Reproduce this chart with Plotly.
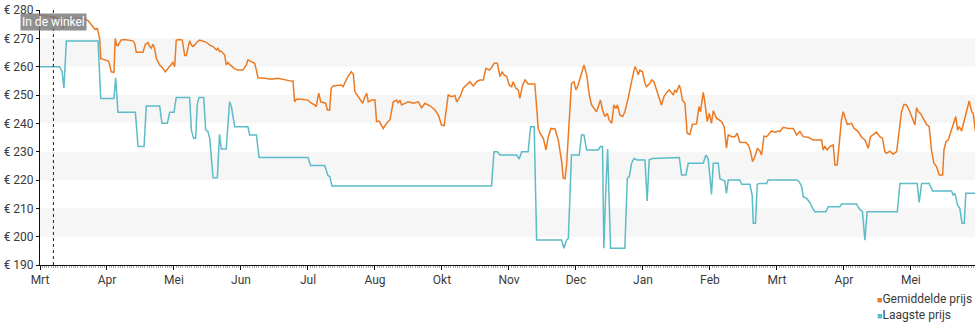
import plotly.graph_objects as go

# Price history: day index (one month = 30 days on this axis) and price in euro
avg_day = [0, 4.5, 8, 10.4, 12, 20, 21.6, 24.6, 25.7, 26.7, 27.2, 29, 30.7, 31.2, 31.9, 33.1, 33.7, 34.3,
           34.9, 35.7, 36.4, 37.9, 39.4, 41.6, 42.4, 43.1, 46.1, 47.2, 48.4, 49.1, 49.8, 50.6, 51.3, 52.1,
           53.6, 55.1, 56.1, 57.3, 58.8, 59.5, 60.3, 61, 62.5, 63.7, 64.3, 64.8, 65.5, 66.3, 67, 67.8, 68.5,
           69.2, 70.4, 71.5, 73, 74.5, 76, 77.5, 79, 79.7, 80.4, 81.2, 82, 82.7, 83.4, 84.2, 84.9, 85.7, 87.2,
           88.7, 90.9, 92.4, 93.1, 94.6, 96.1, 96.9, 97.6, 100.6, 103.6, 106.6, 109.5, 112.5, 113.3, 114,
           114.8, 117, 120, 121.5, 123, 123.7, 124.5, 124.9, 125.7, 127.2, 127.9, 128.7, 129.7, 130.4, 131.2,
           134.9, 135.7, 136.4, 137.9, 139.4, 140.3, 141, 141.8, 143.3, 144.5, 145.5, 146.3, 147, 148.5, 150,
           150.7, 151.9, 153, 153.7, 155.2, 156.7, 158.2, 159.7, 160.4, 161.2, 161.9, 163.4, 164.9, 167.2,
           169.4, 170.9, 172.4, 174.6, 176.9, 178.4, 179.8, 181, 182.8, 184.3, 185.8, 186.6, 188.1, 189.5,
           191, 192.5, 194, 195.5, 197, 198.5, 199.7, 201.2, 202.2, 203.3, 204.8, 206, 206.9, 207.8, 209,
           210.1, 211.2, 211.9, 213.1, 214.2, 214.9, 216.1, 217.2, 218.6, 221.6, 222.4, 223.1, 223.9, 225.4,
           226.6, 227.6, 228.8, 230.6, 232.1, 233.6, 234.3, 235.1, 235.8, 236.6, 237.3, 238, 239.1, 240, 241,
           242.5, 243.6, 244.8, 246, 247, 248.2, 249.2, 250, 251, 251.9, 253, 254, 254.9, 256, 257, 257.9,
           258.6, 259.7, 260.9, 261.9, 263.4, 264.9, 266.4, 267.2, 267.9, 268.6, 269.8, 270.9, 271.6, 273.1,
           273.9, 274.9, 276.1, 277.3, 278.3, 279.4, 280.6, 281.8, 282.8, 283.6, 284.3, 285, 286.3, 286.9,
           287.7, 288.8, 289.8, 291, 292.1, 294, 295.1, 295.8, 297, 297.7, 298.8, 299.7, 300.7, 301.5, 303,
           304.2, 305.2, 306.4, 307.4, 308.2, 309.7, 311.2, 312.2, 313.4, 316.1, 317.2, 318.2, 319.1, 320.1,
           321.3, 322.4, 323.1, 324.2, 325.4, 326.6, 327.6, 329.1, 330.6, 331.3, 332.8, 335.1, 337.3, 338.8,
           340.3, 341.8, 344, 346.3, 350, 350.7, 351.5, 352.5, 353.7, 355.2, 356, 357, 358.2, 358.9, 359.7,
           360.4, 361.5, 363.4, 364.6, 366.4, 367.9, 369.4, 370.9, 371.9, 373.1, 374.6, 376.1, 377.3, 378.3,
           379.1, 380.6, 382.1, 383.6, 384.8, 385.8, 386.9, 388, 389.2, 390.7, 391.8, 392.5, 393.3, 394.3,
           395.5, 397, 398.2, 399.2, 400.3, 401.5, 402.7, 404.2, 404.8, 405.7, 406.7, 407.7, 408.9, 410.1,
           410.9, 411.6, 412.7, 413.7, 414.9, 416.1, 417.2, 417.9, 418.9]
avg_price = [278.2, 277.6, 277.3, 273.5, 277, 277, 276.2, 273.2, 273.5, 270, 262.9, 262.4, 262, 260.6, 258.2,
             258, 270, 267.6, 267.4, 268.6, 269.4, 269.6, 269.4, 269.1, 268.2, 265.1, 265.1, 267.9, 268.5,
             267.1, 266.5, 267.9, 266.5, 262.9, 260.6, 259.4, 258.2, 259.4, 260.6, 261.5, 260, 269.4, 269.6,
             269.4, 266.5, 263.9, 263.9, 266.5, 269.1, 267.6, 267.1, 267.6, 268.8, 269.4, 269.1, 268.6, 267.6,
             267.1, 265.9, 266.5, 265.3, 265.5, 264.7, 264.1, 260.6, 261.5, 260.8, 260.2, 259.2, 258.8, 258.8,
             260.6, 262.4, 261.8, 261.2, 258.8, 256.1, 255.9, 255.6, 255.9, 255.3, 254.9, 254.9, 247.6, 248.5,
             248.5, 248.2, 247.1, 246.5, 245.9, 249.4, 250.6, 247.6, 247.4, 247.1, 244.7, 244.7, 252.4, 253.2,
             253.5, 252.9, 254.1, 256.5, 258.2, 257.4, 251.2, 250.2, 248.2, 247.1, 249.4, 250.6, 247.6, 248.2,
             248.2, 240.6, 240.8, 239.4, 238.2, 240, 241.2, 247.6, 248.2, 247.1, 248.2, 246.5, 247.1, 247.6,
             247.1, 247.6, 245.5, 247.1, 246.2, 244.7, 242.9, 239.4, 239.2, 250, 249.4, 249.8, 247.6, 249.4,
             252.4, 253.5, 254.7, 253.2, 254.7, 255.3, 255.3, 259.4, 258.8, 259.6, 261.2, 261.2, 256.5, 258.2,
             257.1, 256.5, 253.5, 252.9, 254.7, 252.4, 251.8, 248.8, 253.5, 255.3, 253.9, 253.9, 245.3, 238.2,
             236.5, 234.7, 230.6, 235.3, 238.2, 238, 234.1, 226.5, 220.6, 220.4, 225.3, 237.1, 248.2, 254.1,
             254.7, 251.8, 253.5, 258.2, 260.6, 257.1, 250, 246.5, 245.3, 244.1, 245.9, 248.2, 244.7, 242.4,
             243.5, 241.2, 240, 246.5, 245.3, 246.5, 242.9, 242.4, 244.1, 248.8, 254.7, 260, 258.8, 257.1,
             258.8, 258.2, 254.1, 252.9, 254.1, 255.3, 254.7, 251.8, 248.2, 246.5, 249.4, 250.9, 251.8, 250.9,
             250, 251.8, 250.9, 253.5, 251.8, 248.2, 247.1, 236.5, 236.1, 239.6, 239.8, 245.9, 244.1, 250.9,
             247.6, 240.6, 243.5, 240, 244.4, 241.8, 241.2, 240.6, 238.8, 231.2, 235.9, 235.3, 235.3, 236.5,
             233.3, 233.2, 232.4, 230, 226.5, 228.2, 231.2, 230.2, 228.8, 235.5, 235.3, 236.5, 237.3, 236.9,
             237.3, 237.1, 238.6, 238.2, 238.2, 235.9, 237.1, 235.3, 235.1, 234.1, 234.1, 230.6, 231.8, 230.6,
             231.8, 232.4, 225.3, 225.3, 234.7, 241.2, 244.1, 242.4, 239.6, 240, 238.2, 237.1, 235.1, 234.1,
             231.2, 235.3, 236.1, 236.9, 235.3, 234.7, 230, 229.4, 230.2, 229.1, 230, 238.2, 244.1, 246.7,
             246.5, 244.7, 241.8, 239.4, 245.5, 244.1, 243.5, 241.8, 239.6, 238.8, 230.6, 225.9, 224.7, 221.8,
             221.8, 230.6, 233.5, 234.1, 236.5, 239.4, 242.4, 237.6, 238.8, 237.3, 240.6, 243.5, 247.9, 244.1,
             243.5, 237.1]

low_day = [0, 8.8, 9.9, 10.7, 11.8, 26, 27.2, 33.1, 33.9, 34.9, 42.7, 43.9, 46.6, 47.6, 53.6, 54.6, 57, 58.1,
           60, 61, 67, 67.8, 68.8, 69.7, 70.4, 71.2, 73.3, 74.2, 75.2, 76, 77.5, 79.4, 80.4, 81.2, 83.4, 84.9,
           85.7, 87.2, 93.1, 93.9, 96.9, 98.1, 120, 121.2, 127.5, 129, 129.8, 130.7, 202.2, 203.3, 204.8, 206,
           213.4, 214.6, 215.7, 218.6, 219.7, 221.3, 222.4, 233.6, 234.6, 235.8, 236.6, 238, 241.5, 242.5,
           243.6, 244.8, 250, 251, 251.9, 252.5, 253.4, 254.2, 255.5, 261.9, 263, 263.9, 264.9, 266, 267.5,
           270.9, 271.9, 272.8, 274.3, 286.3, 287.3, 289.2, 290.3, 297, 298.2, 299.2, 300, 300.7, 301.5, 303.7,
           304.5, 306.7, 307.4, 308.2, 313.4, 314.2, 317.9, 318.9, 319.4, 320.4, 321.2, 322.4, 325.4, 326.1,
           338.8, 340, 341.1, 341.8, 343.3, 344.8, 346, 347, 351.9, 353, 358.2, 358.9, 365.7, 366.9, 368.3,
           369.4, 370.4, 383.9, 385.1, 392.8, 393.7, 394.8, 398.2, 399.7, 408.2, 408.9, 409.7, 410.9, 411.9,
           412.9, 413.9, 414.6, 418.9]
low_price = [260, 260, 258.2, 252.4, 269.1, 269.1, 248.8, 248.8, 256.1, 243.9, 243.9, 231.8, 231.8, 246.1,
             246.1, 240, 240, 243.9, 243.9, 249.1, 249.1, 237.6, 234.7, 234.7, 246.5, 249.1, 249.1, 237.6,
             237.1, 234.7, 220.8, 220.8, 236.1, 230.9, 230.9, 247.6, 245.9, 238.8, 238.8, 235.9, 235.9, 227.9,
             227.9, 225.1, 225.1, 221.5, 221.2, 217.9, 217.9, 230, 230, 228.8, 228.8, 227.4, 230, 230, 238.8,
             238.8, 198.8, 198.8, 195.9, 198.8, 199.4, 228.8, 228.8, 235.9, 235.9, 230.6, 230.6, 231.8, 231.8,
             195.9, 217.1, 230.9, 195.9, 195.9, 220.6, 221.2, 225.9, 227.6, 227.1, 227.1, 212.6, 227.1, 227.6,
             227.9, 221.8, 221.8, 225.9, 225.9, 228.8, 227.6, 221.2, 214.9, 225.9, 225.9, 220.4, 219.6, 215.3,
             220, 220, 218.5, 218.5, 214.7, 204.7, 204.7, 218.5, 218.8, 218.8, 220, 220, 219.4, 217.6, 214.1,
             213.5, 212, 210, 208.8, 208.8, 210.6, 210.6, 211.5, 211.5, 209.8, 208.8, 198.8, 208.8, 208.8,
             218.8, 218.8, 212.1, 218.8, 218.8, 216.1, 216.1, 214.7, 215.3, 211.2, 210, 204.7, 204.7, 215.3,
             215.3]

month_days = [0, 30, 60, 90, 120, 150, 180, 210, 240, 270, 300, 330, 360, 390]
month_labels = ["Mrt", "Apr", "Mei", "Jun", "Jul", "Aug", "Okt", "Nov", "Dec", "Jan", "Feb", "Mrt", "Apr", "Mei"]
price_ticks = [190, 200, 210, 220, 230, 240, 250, 260, 270, 280]
price_labels = [f"€ {p}" for p in price_ticks]
shaded_bands = [(200, 210), (220, 230), (240, 250), (260, 270)]
store_day = 6
series_names = ["Gemiddelde prijs", "Laagste prijs"]

ORANGE = "#ec7a22"
TEAL = "#5cbcc7"
TEXT = "#3a3a3a"
FONT = "Roboto"

fig = go.Figure()
fig.add_trace(go.Scatter(x=avg_day, y=avg_price, mode="lines", name=series_names[0],
                         line=dict(color=ORANGE, width=1.5), showlegend=False))
fig.add_trace(go.Scatter(x=low_day, y=low_price, mode="lines", name=series_names[1],
                         line=dict(color=TEAL, width=1.5), showlegend=False))

shapes = []
for lo, hi in shaded_bands:
    shapes.append(dict(type="rect", xref="paper", x0=0, x1=1, yref="y", y0=lo, y1=hi,
                       fillcolor="#f6f6f6", line=dict(width=0), layer="below"))
shapes.append(dict(type="line", xref="x", x0=store_day, x1=store_day, yref="paper", y0=0, y1=1,
                   line=dict(color="#222", width=1, dash="dot")))

# Legend: coloured square followed by the series name, one entry per line
legend_colors = [ORANGE, TEAL]
legend_text = "<br>".join(
    f"<span style='color:{col};font-size:9px'>■</span>{name}"
    for name, col in zip(series_names, legend_colors)
)

annotations = [
    dict(x=store_day, xref="x", y=1, yref="paper", yanchor="top", xanchor="center", yshift=-3,
         text="In de winkel", showarrow=False, bgcolor="rgba(125,125,125,0.85)", borderpad=1,
         font=dict(family=FONT, size=12, color="white")),
    dict(x=0.893, xref="paper", y=-0.165, yref="paper", xanchor="left", yanchor="middle",
         text=legend_text, showarrow=False, align="left",
         font=dict(family=FONT, size=12, color=TEXT)),
]

fig.update_layout(
    width=980, height=325, margin=dict(l=40, r=5, t=10, b=60, autoexpand=False),
    paper_bgcolor="white", plot_bgcolor="white",
    font=dict(family=FONT, size=12, color=TEXT),
    shapes=shapes, annotations=annotations, showlegend=False,
    xaxis=dict(range=[0, 418.7], tickmode="array", tickvals=month_days, ticktext=month_labels,
               showgrid=False, zeroline=False, showline=True, linecolor="#111", linewidth=1,
               ticks="outside", ticklen=4, tickcolor="#111", automargin=False,
               minor=dict(ticks="outside", ticklen=2, dtick=1, tick0=0, tickcolor="#aaa", showgrid=False),
               fixedrange=True),
    yaxis=dict(range=[190, 280], tickmode="array", tickvals=price_ticks, ticktext=price_labels,
               showgrid=False, zeroline=False, showline=True, linecolor="#111", linewidth=1,
               ticks="outside", ticklen=3, tickcolor="#111", automargin=False, fixedrange=True),
)

fig.write_html("out.html")
